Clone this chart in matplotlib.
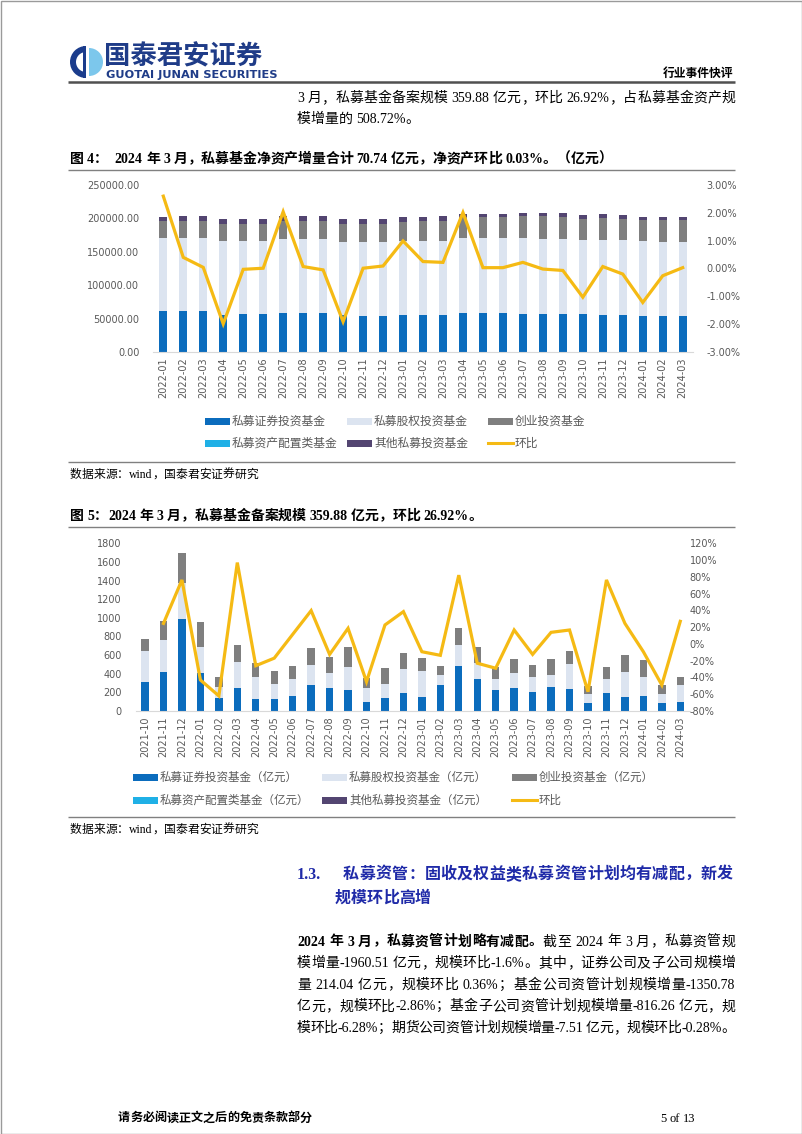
import re
import numpy as np
import matplotlib.pyplot as plt
from matplotlib.patches import Rectangle, Wedge
from matplotlib.lines import Line2D
from matplotlib.ticker import FuncFormatter

W, H = 802, 1134
CJK = ['Noto Sans CJK SC', 'DejaVu Sans']
SERIF = ['Liberation Serif', 'Noto Sans CJK SC']
plt.rcParams['font.family'] = CJK

# ---------------- chart 1: 私募基金净资产 (亿元) ----------------
months1 = ['2022-01', '2022-02', '2022-03', '2022-04', '2022-05', '2022-06',
           '2022-07', '2022-08', '2022-09', '2022-10', '2022-11', '2022-12',
           '2023-01', '2023-02', '2023-03', '2023-04', '2023-05', '2023-06',
           '2023-07', '2023-08', '2023-09', '2023-10', '2023-11', '2023-12',
           '2024-01', '2024-02', '2024-03']
sec1 = [61500, 62000, 62000, 56000, 56500, 56500, 58500, 58500, 58500,
        55500, 54500, 54500, 55000, 55000, 55000, 58000, 58000, 58000,
        57500, 57500, 57500, 56500, 56000, 56000, 54000, 53500, 53500]
equity1 = [108500, 108000, 108000, 110000, 109500, 109500, 110500, 110000, 110000,
           109500, 110500, 110500, 111000, 111000, 111500, 112000, 112000, 112000,
           112500, 112000, 112000, 111000, 111500, 111000, 111500, 111500, 111000]
venture1 = [25500, 25500, 25500, 26000, 26000, 26000, 26500, 28000, 28000,
            27000, 27000, 27000, 29000, 29500, 30000, 32000, 32000, 32000,
            33000, 33500, 33000, 32000, 32500, 32500, 32500, 33000, 33500]
asset1 = [200, 200, 200, 200, 200, 200, 200, 200, 200,
          200, 200, 200, 200, 200, 200, 200, 200, 200,
          200, 200, 200, 200, 200, 200, 200, 200, 200]
other1 = [6300, 7300, 7300, 6800, 6800, 6800, 7300, 6300, 6300,
          6800, 6800, 6800, 6300, 6300, 6300, 4800, 4800, 4800,
          4800, 4800, 4800, 5800, 5800, 5300, 4300, 4300, 4300]
mom1 = [2.60, 0.40, 0.04, -1.99, -0.03, 0.01, 2.04, 0.07, -0.05,
        -1.91, 0.01, 0.09, 0.99, 0.25, 0.22, 2.01, 0.03, 0.03,
        0.22, -0.02, -0.07, -1.03, 0.07, -0.20, -1.22, -0.26, 0.03]
legend1 = ['私募证券投资基金', '私募股权投资基金', '创业投资基金',
           '私募资产配置类基金', '其他私募投资基金', '环比']

# ---------------- chart 2: 私募基金备案规模 (亿元) ----------------
months2 = ['2021-10', '2021-11', '2021-12'] + months1
sec2 = [315, 422, 988, 404, 140, 243, 125, 132, 165, 283, 251, 222, 97, 140, 193,
        154, 276, 483, 340, 222, 243, 208, 258, 233, 82, 197, 154, 165, 82, 97]
equity2 = [329, 340, 383, 287, 114, 279, 244, 158, 175, 207, 161, 254, 153, 153, 258,
           279, 111, 226, 179, 122, 169, 161, 125, 272, 101, 150, 265, 204, 101, 182]
venture2 = [133, 204, 322, 268, 107, 183, 150, 139, 143, 186, 168, 215, 101, 165, 175,
            136, 100, 182, 165, 132, 146, 121, 175, 143, 85, 129, 179, 179, 96, 82]
asset2 = [0, 0, 0, 0, 0, 0, 0, 0, 0, 0, 0, 0, 0, 0, 0,
          0, 0, 0, 0, 0, 0, 0, 0, 0, 0, 0, 0, 0, 0, 0]
other2 = [0, 0, 0, 0, 0, 0, 0, 0, 0, 0, 0, 0, 0, 0, 0,
          0, 0, 0, 0, 0, 0, 0, 0, 0, 0, 0, 0, 0, 0, 0]
mom2 = [np.nan, 24.5, 76.3, -43.0, -62.0, 97.0, -26.0, -17.0, 11.4, 39.7, -12.5, 18.6,
        -45.0, 22.6, 38.5, -9.3, -13.6, 82.0, -23.0, -29.0, 16.6, -12.5, 13.8, 16.6,
        -57.0, 76.3, 24.5, -9.3, -49.0, 26.92]
legend2 = ['私募证券投资基金（亿元）', '私募股权投资基金（亿元）', '创业投资基金（亿元）',
           '私募资产配置类基金（亿元）', '其他私募投资基金（亿元）', '环比']

COLORS = ['#0B6CBD', '#DCE4F0', '#7F7F7F', '#1FB0E6', '#534571']
LINE = '#F5BA14'
TICK = '#595959'

fig = plt.figure(figsize=(W / 100, H / 100), dpi=100)
page = fig.add_axes([0, 0, 1, 1])
page.set_xlim(0, W)
page.set_ylim(H, 0)
page.axis('off')
page.set_zorder(0)
renderer = fig.canvas.get_renderer()


def px_rect(l, t, r, b):
    return [l / W, 1 - b / H, (r - l) / W, (b - t) / H]


def tokens(txt):
    return re.findall(r'[A-Za-z0-9.%\-]+| |.', txt)


def draw_line_text(segments, x0, y, x1=None, size=10, color='black', family=SERIF):
    # segments: (text, weight); x1 given -> spread tokens to fill x0..x1
    items = []
    for txt, weight in segments:
        for tok in tokens(txt):
            if tok == ' ':
                items.append((None, 0.25 * size * 100 / 72))
                continue
            t = page.text(0, y + 0.36 * size * 100 / 72, tok, fontsize=size,
                          fontweight=weight, family=family, color=color,
                          va='baseline', ha='left')
            items.append((t, t.get_window_extent(renderer).width))
    total = sum(w for _, w in items)
    gap = 0 if x1 is None else (x1 - x0 - total) / (len(items) - 1)
    x = x0
    for t, w in items:
        if t is not None:
            t.set_x(x)
        x += w + gap


def rule(y, lw=1.0, color='#808080'):
    page.plot([68, 735], [y, y], color=color, lw=lw, solid_capstyle='butt')


def legend_rows(labels, cols, rows, size, hw=25, hh=7):
    handles = ['bar0', 'bar1', 'bar2', 'bar3', 'bar4', 'line']
    for i, lab in enumerate(labels):
        x = cols[i % 3]
        y = rows[i // 3]
        if handles[i] == 'line':
            page.add_line(Line2D([x, x + hw], [y, y], color=LINE, lw=2.2))
        else:
            page.add_patch(Rectangle((x, y - hh / 2), hw, hh,
                                     color=COLORS[int(handles[i][-1])], lw=0))
        page.text(x + hw + 2, y, lab, fontsize=size, color=TICK, va='center',
                  ha='left', family=CJK)


def stacked_chart(rect, months, series, mom, ylim, yticks, yfmt, rlim, rticks, rfmt,
                  rpad=10):
    ax = fig.add_axes(rect)
    x = np.arange(len(months))
    bottom = np.zeros(len(months))
    for vals, col in zip(series, COLORS):
        vals = np.array(vals, dtype=float)
        ax.bar(x, vals, width=0.4, bottom=bottom, color=col, lw=0)
        bottom += vals
    ax.set_xlim(-0.5, len(months) - 0.5)
    ax.set_ylim(*ylim)
    ax.set_yticks(yticks)
    ax.yaxis.set_major_formatter(FuncFormatter(yfmt))
    ax.set_xticks(x)
    ax.set_xticklabels(months, rotation=90)
    for s in ['top', 'right', 'left']:
        ax.spines[s].set_visible(False)
    ax.spines['bottom'].set_color('#D9D9D9')
    ax.tick_params(length=0, labelsize=7, labelcolor=TICK, pad=10)
    ax.tick_params(axis='x', pad=4)
    ax2 = ax.twinx()
    ax2.plot(x, mom, color=LINE, lw=2.3, solid_joinstyle='miter')
    ax2.set_ylim(*rlim)
    ax2.set_yticks(rticks)
    ax2.yaxis.set_major_formatter(FuncFormatter(rfmt))
    for s in ax2.spines.values():
        s.set_visible(False)
    ax2.tick_params(length=0, labelsize=7, labelcolor=TICK, pad=rpad)
    for a in (ax, ax2):
        for lab in a.get_xticklabels() + a.get_yticklabels():
            lab.set_family('DejaVu Sans')
    return ax, ax2


# ---------------- header ----------------
page.add_patch(Rectangle((0.5, 0.5), W - 1, H - 1, fill=False, ec='#9A9A9A', lw=1))
page.add_patch(Wedge((86, 62), 16, 90, 270, color='#1B3C8C', lw=0))
page.add_patch(Wedge((86, 62), 10, 90, 270, color='white', lw=0))
page.add_patch(Wedge((89, 62), 14, 270, 90, color='#7CC7EC', lw=0))
page.add_patch(Rectangle((83, 46), 3, 32, color='#1B3C8C', lw=0))
page.text(104, 57, '国泰君安证券', fontsize=19, fontweight='bold', color='#1F3C88',
          va='center', ha='left', family=CJK)
page.text(106, 75.5, 'GUOTAI JUNAN SECURITIES', fontsize=8.2, fontweight='bold',
          color='#1F3C88', va='center', ha='left', family=['DejaVu Sans'])
page.text(733, 73, '行业事件快评', fontsize=8.5, fontweight='bold', color='black',
          va='center', ha='right', family=CJK)
rule(82, lw=1.8, color='#505050')

draw_line_text([('3 月，私募基金备案规模 359.88 亿元，环比 26.92%，占私募基金资产规', 'normal')],
               297, 97, 735)
draw_line_text([('模增量的 508.72%。', 'normal')], 297, 118)

# ---------------- figure 4 ----------------
draw_line_text([('图 4：  2024 年 3 月，私募基金净资产增量合计 70.74 亿元，净资产环比 0.03%。（亿元）', 'bold')],
               70, 158, 612)
rule(170)
stacked_chart(px_rect(153.3, 185, 692.7, 352), months1,
              [sec1, equity1, venture1, asset1, other1], mom1,
              (0, 250000), np.arange(0, 250001, 50000), lambda v, p: f'{v:.2f}',
              (-3, 3), np.arange(-3, 3.01, 1), lambda v, p: f'{v:.2f}%')
legend_rows(legend1, [205, 347, 488], [421, 443], 8.5)
rule(462)
draw_line_text([('数据来源：wind，国泰君安证券研究', 'normal')], 70, 474, size=8.5)

# ---------------- figure 5 ----------------
draw_line_text([('图 5：2024 年 3 月，私募基金备案规模 359.88 亿元，环比 26.92%。', 'bold')],
               70, 515)
rule(527)
stacked_chart(px_rect(135.8, 543.3, 689.5, 711), months2,
              [sec2, equity2, venture2, asset2, other2], mom2,
              (0, 1800), np.arange(0, 1801, 200), lambda v, p: f'{v:.0f}',
              (-80, 120), np.arange(-80, 121, 20), lambda v, p: f'{v:.0f}%', rpad=0)
legend_rows(legend2, [133, 322, 512], [777, 800], 8.3)
rule(817)
draw_line_text([('数据来源：wind，国泰君安证券研究', 'normal')], 70, 829, size=8.5)

# ---------------- section 1.3 ----------------
BLUE = '#1F2AA8'
draw_line_text([('1.3.', 'bold')], 297, 873, size=11.5, color=BLUE)
draw_line_text([('私募资管：固收及权益类私募资管计划均有减配，新发', 'bold')],
               343, 873, 733, size=11.5, color=BLUE)
draw_line_text([('规模环比高增', 'bold')], 335, 897, size=11.5, color=BLUE)

body = [
    [('2024 年 3 月，私募资管计划略有减配。', 'bold'), ('截至 2024 年 3 月，私募资管规', 'normal')],
    [('模增量-1960.51 亿元，规模环比-1.6%。其中，证券公司及子公司规模增', 'normal')],
    [('量 214.04 亿元，规模环比 0.36%；基金公司资管计划规模增量-1350.78', 'normal')],
    [('亿元，规模环比-2.86%；基金子公司资管计划规模增量-816.26 亿元，规', 'normal')],
    [('模环比-6.28%；期货公司资管计划规模增量-7.51 亿元，规模环比-0.28%。', 'normal')],
]
for i, segs in enumerate(body):
    draw_line_text(segs, 297, 940.5 + i * 21.6, 735)

# ---------------- footer ----------------
draw_line_text([('请务必阅读正文之后的免责条款部分', 'bold')], 118, 1117, size=8.7)
draw_line_text([('5 of 13', 'normal')], 660, 1117, size=9)

fig.savefig('out.png', dpi=100)
